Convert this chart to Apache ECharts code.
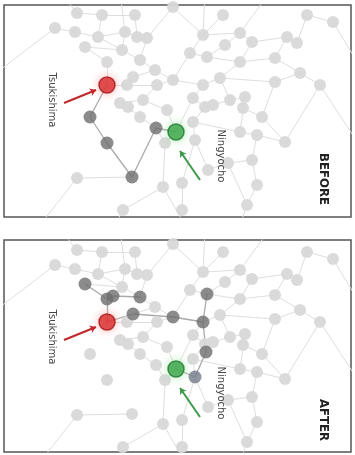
<!DOCTYPE html>
<html><head><meta charset="utf-8">
<script src="https://cdn.jsdelivr.net/npm/echarts@6/dist/echarts.min.js"></script>
<style>html,body{margin:0;background:#fff}#c{width:355px;height:455px}</style></head>
<body><div id="c"></div>
<script>
// Network nodes (shared layout of both panels)
const nodes = [
 [77,13],[102,15],[135,15],[173,7],[223,15],[307,15],[333,22],[55,28],[75,32],[98,37],
 [125,32],[137,37],[147,38],[203,35],[240,33],[252,42],[287,37],[297,43],[85,47],[122,50],
 [190,53],[207,57],[225,45],[240,62],[275,58],[140,60],[107,62],[155,70],[133,77],[127,85],
 [173,80],[157,85],[203,85],[220,78],[275,82],[300,73],[320,85],[193,98],[143,100],[120,103],
 [128,107],[167,110],[205,107],[213,105],[230,100],[245,97],[243,108],[140,117],[262,117],[193,122],
 [240,132],[257,135],[285,142],[195,140],[165,143],[228,163],[252,160],[208,170],[77,178],[163,187],
 [182,183],[257,185],[247,205],[123,210],[182,210],
 [90,117],[107,143],[132,177],[156,128],[113,59],[206,115],
 [107,85],[176,132]
];
// Points just outside the frame where lines leave the view
const exits = [[356,140],[60,-8],[120,-8],[205,-8],[270,-8],[40,225],[115,225],[240,225],[0,70],[356,60],[185,225]];
const RED = 71, GREEN = 72;
const edges = [
 [0,1],[1,2],[2,11],[3,13],[4,13],[13,14],[14,15],[15,16],[16,17],[17,5],[5,6],
 [7,8],[8,9],[9,10],[10,11],[11,12],[12,25],[9,19],[10,19],[18,19],[19,25],[25,27],[27,30],
 [30,32],[32,33],[33,34],[34,35],[35,36],[20,21],[21,22],[22,14],[13,20],[20,30],[21,23],
 [23,33],[23,24],[24,16],[24,35],[28,29],[29,31],[31,30],[26,71],[71,29],[26,18],
 [38,39],[39,40],[40,47],[38,41],[41,72],[72,37],[37,32],[37,42],[42,43],[43,44],[44,45],
 [45,46],[46,48],[48,52],[50,51],[51,52],[49,50],[49,53],[53,57],[57,55],[55,56],[56,61],
 [61,62],[54,59],[59,63],[60,64],[54,72],[53,60],[58,67],[47,68],[31,38],[15,23],[33,44],
 [34,48],[36,52],[45,50],[1,9],[3,12],[55,62],[56,51],[42,49],[27,28],[68,54]
];
const exitEdges = [[36,0],[0,1],[10,2],[13,3],[14,4],[58,5],[63,6],[62,7],[7,8],[6,9],[59,10]];
// Highlighted route, BEFORE
const darkBefore = [65,66,67,68];
const routeBefore = [[71,65],[65,66],[66,67],[67,68],[68,72]];
// Highlighted route, AFTER
const darkAfter = [18,26,69,25,28,30,21,32,70];
const slateAfter = [53];
const routeAfter = [[71,26],[26,18],[26,69],[69,25],[71,28],[28,30],[30,32],[32,21],[32,70],[70,53],[53,72]];
const lightBefore = nodes.map((_, i) => i).filter(i => i < 65);
const lightAfter = nodes.map((_, i) => i).filter(i => i <= 68 && darkAfter.indexOf(i) < 0 && slateAfter.indexOf(i) < 0);
const arrowRed = [[64,103],[96,90]];
const arrowGreen = [[200,180],[180,151]];
const panelTitles = ['BEFORE', 'AFTER'];
const stationLabels = ['Tsukishima', 'Ningyocho'];

const panels = [{top:5, height:212, ymin:5, ymax:217, dark:darkBefore, slate:[], route:routeBefore, light:lightBefore},
                {top:240, height:212, ymin:3, ymax:215, dark:darkAfter, slate:slateAfter, route:routeAfter, light:lightAfter}];

const grid = [], xAxis = [], yAxis = [], series = [], graphic = [];
panels.forEach((p, k) => {
  grid.push({left:4, top:p.top, width:347, height:p.height, show:true, borderColor:'#555', borderWidth:1.5, backgroundColor:'#fff'});
  xAxis.push({gridIndex:k, type:'value', min:4, max:351, show:false});
  yAxis.push({gridIndex:k, type:'value', min:p.ymin, max:p.ymax, inverse:true, show:false});
  const seg = (pairs) => pairs.map(e => ({coords:[nodes[e[0]], nodes[e[1]]]}));
  const segOut = exitEdges.map(e => ({coords:[nodes[e[0]], exits[e[1]]]}));
  series.push({type:'lines', coordinateSystem:'cartesian2d', xAxisIndex:k, yAxisIndex:k, clip:true, silent:true, z:1,
    lineStyle:{color:'#dedede', width:1, opacity:1}, data:seg(edges).concat(segOut)});
  series.push({type:'lines', coordinateSystem:'cartesian2d', xAxisIndex:k, yAxisIndex:k, clip:true, silent:true, z:2,
    lineStyle:{color:'#aaaaaa', width:1.3, opacity:1}, data:seg(p.route)});
  series.push({type:'scatter', xAxisIndex:k, yAxisIndex:k, symbolSize:12, z:3, silent:true,
    itemStyle:{color:'#d8d8d8', opacity:0.95}, data:p.light.map(i => nodes[i])});
  series.push({type:'scatter', xAxisIndex:k, yAxisIndex:k, symbolSize:13, z:4, silent:true,
    itemStyle:{color:'#6e6e6e'}, data:p.dark.map(i => nodes[i])});
  series.push({type:'scatter', xAxisIndex:k, yAxisIndex:k, symbolSize:13, z:4, silent:true,
    itemStyle:{color:'#737a8a'}, data:p.slate.map(i => nodes[i])});
  series.push({type:'scatter', xAxisIndex:k, yAxisIndex:k, symbolSize:16, z:5, silent:true,
    itemStyle:{color:'#d42222', borderColor:'#a51515', borderWidth:1.5, shadowBlur:8, shadowColor:'rgba(255,150,150,0.8)'},
    data:[nodes[RED]]});
  series.push({type:'scatter', xAxisIndex:k, yAxisIndex:k, symbolSize:16, z:5, silent:true,
    itemStyle:{color:'#2f9e3f', borderColor:'#1d7a2b', borderWidth:1.5, shadowBlur:8, shadowColor:'rgba(150,230,160,0.8)'},
    data:[nodes[GREEN]]});
  series.push({type:'lines', coordinateSystem:'cartesian2d', xAxisIndex:k, yAxisIndex:k, z:6, silent:true,
    symbol:['none','arrow'], symbolSize:6,
    lineStyle:{color:'#c0282a', width:2, opacity:1}, data:[{coords:arrowRed}]});
  series.push({type:'lines', coordinateSystem:'cartesian2d', xAxisIndex:k, yAxisIndex:k, z:6, silent:true,
    symbol:['none','arrow'], symbolSize:6,
    lineStyle:{color:'#3a9a4a', width:2, opacity:1}, data:[{coords:arrowGreen}]});
  const off = p.top - p.ymin;
  graphic.push({type:'text', x:52, y:100 + off, rotation:-Math.PI/2, z:10,
    style:{text:stationLabels[0], font:'10px "DejaVu Sans"', fill:'#444', textAlign:'center', textVerticalAlign:'middle'}});
  graphic.push({type:'text', x:221, y:156 + off, rotation:-Math.PI/2, z:10,
    style:{text:stationLabels[1], font:'10px "DejaVu Sans"', fill:'#444', textAlign:'center', textVerticalAlign:'middle'}});
  graphic.push({type:'text', x:323, y:(k === 0 ? 179 : 183) + off, rotation:-Math.PI/2, z:10,
    style:{text:panelTitles[k], font:'bold 13px "DejaVu Sans Condensed"', fill:'#222', textAlign:'center', textVerticalAlign:'middle'}});
});

const chart = echarts.init(document.getElementById('c'), null, {renderer:'canvas'});
chart.setOption({animation:false, backgroundColor:'#fff', grid, xAxis, yAxis, series, graphic});
</script>
</body></html>
